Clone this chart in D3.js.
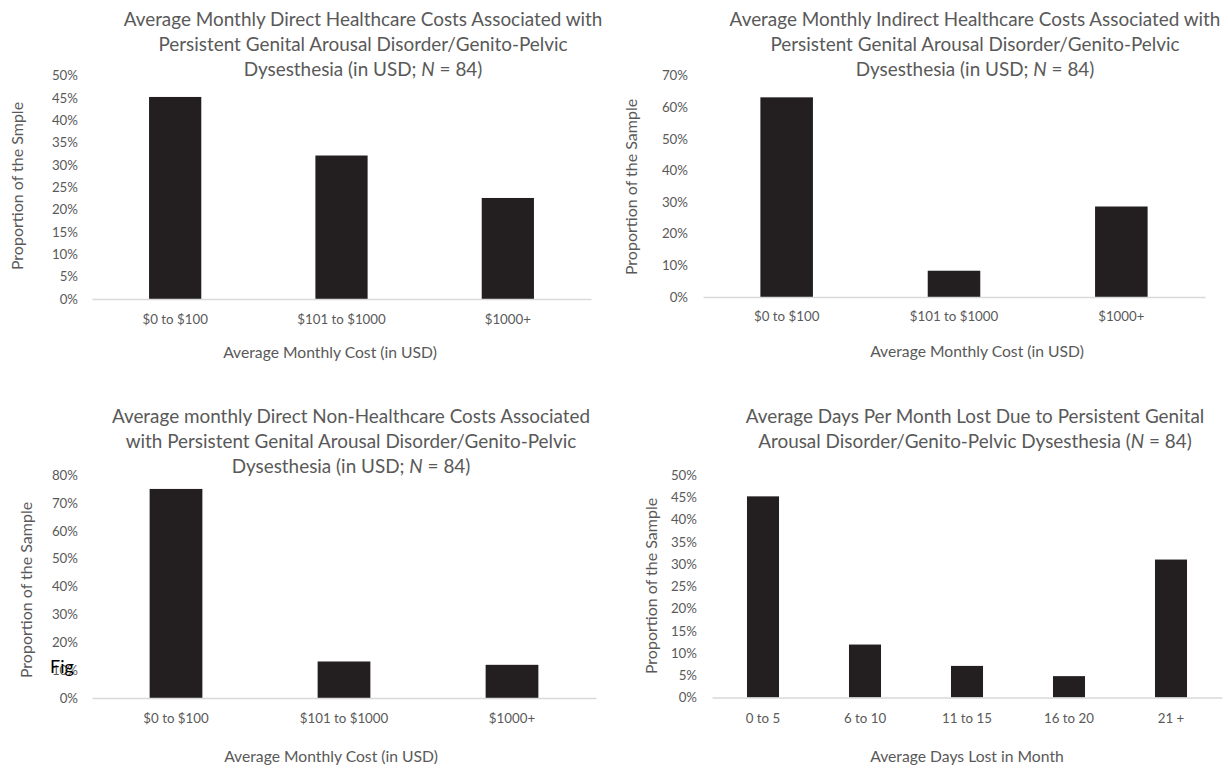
<!DOCTYPE html>
<html>
<head>
<meta charset="utf-8">
<script src="https://cdn.jsdelivr.net/npm/d3@7"></script>
<style>
  body { margin: 0; background: #fff; }
  svg { display: block; font-family: Lato, "Open Sans", sans-serif; }
  .tick text { fill: #595959; font-size: 13.3px; font-family: Lato, sans-serif; }
  .chart-title, .axis-title { fill: #595959; }
</style>
</head>
<body>
<div id="container"></div>
<script>
// Four bar charts on the costs of PGAD/GPD (N = 84).

//// DATA ///////////////////////////////////////////////////////////////////////
var costCategories = ["$0 to $100", "$101 to $1000", "$1000+"];
var dayCategories = ["0 to 5", "6 to 10", "11 to 15", "16 to 20", "21 +"];

var directHealthcare = [0.452, 0.321, 0.226];
var indirectHealthcare = [0.631, 0.083, 0.286];
var directNonHealthcare = [0.750, 0.131, 0.119];
var daysLost = [0.452, 0.119, 0.071, 0.048, 0.310];

var directHealthcareTicks = [0, 0.05, 0.10, 0.15, 0.20, 0.25, 0.30, 0.35, 0.40, 0.45, 0.50];
var indirectHealthcareTicks = [0, 0.1, 0.2, 0.3, 0.4, 0.5, 0.6, 0.7];
var directNonHealthcareTicks = [0, 0.1, 0.2, 0.3, 0.4, 0.5, 0.6, 0.7, 0.8];
var daysLostTicks = directHealthcareTicks;

var titleDirect = ["Average Monthly Direct Healthcare Costs Associated with",
                   "Persistent Genital Arousal Disorder/Genito-Pelvic",
                   "Dysesthesia (in USD; |N| = 84)"];
var titleIndirect = ["Average Monthly Indirect Healthcare Costs Associated with",
                     "Persistent Genital Arousal Disorder/Genito-Pelvic",
                     "Dysesthesia (in USD; |N| = 84)"];
var titleNonHealthcare = ["Average monthly Direct Non-Healthcare Costs Associated",
                          "with Persistent Genital Arousal Disorder/Genito-Pelvic",
                          "Dysesthesia (in USD; |N| = 84)"];
var titleDays = ["Average Days Per Month Lost Due to Persistent Genital",
                 "Arousal Disorder/Genito-Pelvic Dysesthesia (|N| = 84)"];


//// SETTINGS ///////////////////////////////////////////////////////////////////
var width = 1228, height = 769;
var bar_color = "#231f20";
var axis_color = "#d9d9d9";
var gap = 0.686; // Excel gap width of ~219%

var panels = [
    { cats: costCategories, vals: directHealthcare, ticks: directHealthcareTicks,
      left: 92, right: 591, top: 75.5, bottom: 299, labelPad: 14, xPad: 16,
      title: titleDirect, titleX: 363, titleY: 26,
      yTitle: "Proportion of the Smple", yTitleX: 23, yTitleY: 186,
      xTitle: "Average Monthly Cost (in USD)", xTitleX: 330, xTitleY: 358 },
    { cats: costCategories, vals: indirectHealthcare, ticks: indirectHealthcareTicks,
      left: 703, right: 1205, top: 75.5, bottom: 297, labelPad: 15, xPad: 15,
      title: titleIndirect, titleX: 975, titleY: 26,
      yTitle: "Proportion of the Sample", yTitleX: 637, yTitleY: 187,
      xTitle: "Average Monthly Cost (in USD)", xTitleX: 977, xTitleY: 357 },
    { cats: costCategories, vals: directNonHealthcare, ticks: directNonHealthcareTicks,
      left: 92, right: 596, top: 475, bottom: 698, labelPad: 14, xPad: 16,
      title: titleNonHealthcare, titleX: 351, titleY: 423,
      yTitle: "Proportion of the Sample", yTitleX: 32, yTitleY: 590,
      xTitle: "Average Monthly Cost (in USD)", xTitleX: 331, xTitleY: 762 },
    { cats: dayCategories, vals: daysLost, ticks: daysLostTicks,
      left: 712, right: 1222, top: 475, bottom: 697.5, labelPad: 15, xPad: 16,
      title: titleDays, titleX: 975, titleY: 423,
      yTitle: "Proportion of the Sample", yTitleX: 657, yTitleY: 586,
      xTitle: "Average Days Lost in Month", xTitleX: 967, xTitleY: 762 }
];


//// DRAWING ////////////////////////////////////////////////////////////////////
var svg = d3.select("#container").append("svg")
            .attr("width", width)
            .attr("height", height);

function draw_title(g, lines, x, y) {
    var text = g.append("text")
        .attr("class", "chart-title")
        .attr("text-anchor", "middle")
        .style("font-size", "18.9px");

    lines.forEach(function(line, i) {
        // "|N|" marks the italic N
        var parts = line.split("|");
        parts.forEach(function(part, j) {
            var span = text.append("tspan").text(part);
            if (j === 0) span.attr("x", x).attr("y", y + i * 25);
            if (j % 2 === 1) span.style("font-style", "italic");
        });
    });
}

panels.forEach(function(p) {
    var g = svg.append("g");

    var x = d3.scaleBand()
        .domain(p.cats)
        .range([p.left, p.right])
        .paddingInner(gap)
        .paddingOuter(gap / 2);

    var y = d3.scaleLinear()
        .domain([0, p.ticks[p.ticks.length - 1]])
        .range([p.bottom, p.top]);

    // y axis: labels only
    var yAxis = g.append("g")
        .attr("transform", "translate(" + p.left + ",0)")
        .call(d3.axisLeft(y)
            .tickValues(p.ticks)
            .tickSize(0)
            .tickPadding(p.labelPad)
            .tickFormat(d3.format(".0%")));
    yAxis.select(".domain").remove();

    // bars
    g.selectAll("rect.bar")
        .data(p.vals)
        .join("rect")
        .attr("class", "bar")
        .attr("x", function(d, i) { return x(p.cats[i]); })
        .attr("width", x.bandwidth())
        .attr("y", function(d) { return y(d); })
        .attr("height", function(d) { return y(0) - y(d); })
        .attr("fill", bar_color);

    // x axis with the light baseline
    var xAxis = g.append("g")
        .attr("transform", "translate(0," + p.bottom + ")")
        .call(d3.axisBottom(x).tickSize(0).tickPadding(p.xPad));
    xAxis.select(".domain")
        .attr("stroke", axis_color)
        .attr("stroke-width", 1.5);

    draw_title(g, p.title, p.titleX, p.titleY);

    g.append("text")
        .attr("class", "axis-title")
        .attr("text-anchor", "middle")
        .attr("transform", "translate(" + p.yTitleX + "," + p.yTitleY + ") rotate(-90)")
        .style("font-size", "16px")
        .text(p.yTitle);

    g.append("text")
        .attr("class", "axis-title")
        .attr("text-anchor", "middle")
        .attr("x", p.xTitleX)
        .attr("y", p.xTitleY)
        .style("font-size", "15.7px")
        .text(p.xTitle);
});

// stray caption fragment sitting over the lower-left axis
svg.append("text")
    .attr("x", 50)
    .attr("y", 673)
    .style("font-size", "18px")
    .style("fill", "#000")
    .text("Fig");
</script>
</body>
</html>
